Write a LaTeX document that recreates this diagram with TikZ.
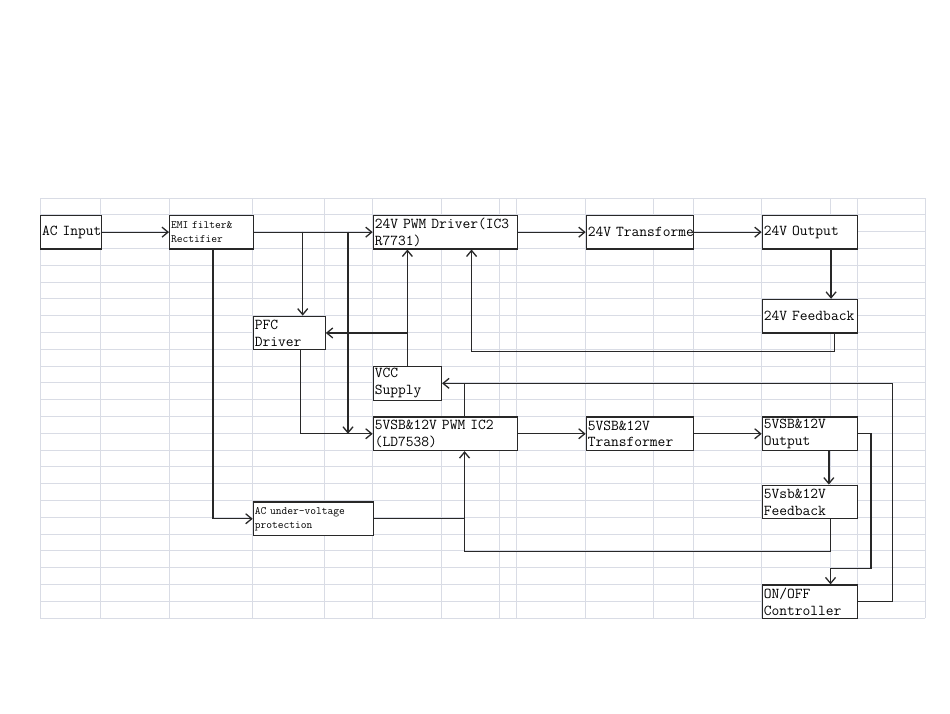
\documentclass[tikz,border=0pt]{standalone}
\usepackage{amsmath}
\usepackage{amssymb}
\usetikzlibrary{arrows.meta}

\definecolor{gridgray}{RGB}{217,220,229}
\definecolor{inkgray}{RGB}{40,40,40}

\tikzset{
  blk/.style={draw=inkgray, line width=1.1pt, fill=white, anchor=north west,
    inner xsep=1.5pt, inner ysep=0pt, align=left, minimum height=33.6pt,
    font=\ttfamily\fontsize{15.1}{16.8}\selectfont},
  small/.style={font=\ttfamily\fontsize{11.2}{14}\selectfont},
  wire/.style={draw=inkgray, line width=1.3pt}
}

\begin{document}
\begin{tikzpicture}[x=1pt, y=-1pt, >={Straight Barb[length=6pt,width=10pt]}]
\useasboundingbox [fill=white] (0,0) rectangle (950,713);

% sheet grid
\foreach \k in {0,...,25}
  \draw [gridgray, line width=0.8pt] (40,198+16.8*\k) -- (925,198+16.8*\k);
\foreach \x in {40,100.7,169,252.7,324.7,372.7,441,499.3,516.7,585.7,653,693.3,761.7,830,857.3,925}
  \draw [gridgray, line width=0.8pt] (\x,198) -- (\x,618);

% blocks
\node [blk, minimum width=60.7pt, text width=57.7pt] (ac) at (40,214.8) {AC~Input};
\node [blk, small, minimum width=83.7pt, text width=80.7pt] (emi) at (169,214.8) {EMI filter\&\\Rectifier};
\node [blk, minimum width=144pt, text width=141pt] (pwmA) at (372.7,214.8) {24V PWM Driver(IC3\\R7731)};
\node [blk, minimum width=107.6pt, text width=104.6pt] (trA) at (585.7,214.8) {24V~Transforme};
\node [blk, minimum width=95.6pt, text width=92.6pt] (outA) at (761.7,214.8) {24V Output};
\node [blk, minimum width=95.6pt, text width=92.6pt] (fbA) at (761.7,298.8) {24V Feedback};
\node [blk, minimum width=72pt, text width=69pt] (pfc) at (252.7,315.6) {PFC\\Driver};
\node [blk, minimum width=68.3pt, text width=65.3pt] (vcc) at (372.7,366) {VCC\\Supply};
\node [blk, minimum width=144pt, text width=141pt] (pwmB) at (372.7,416.4) {5VSB\&12V PWM IC2\\(LD7538)};
\node [blk, minimum width=107.6pt, text width=104.6pt] (trB) at (585.7,416.4) {5VSB\&12V\\Transformer};
\node [blk, minimum width=95.6pt, text width=92.6pt] (outB) at (761.7,416.4) {5VSB\&12V\\Output};
\node [blk, minimum width=95.6pt, text width=92.6pt] (fbB) at (761.7,484.6) {5Vsb\&12V\\Feedback};
\node [blk, small, minimum width=120pt, text width=117pt] (uvp) at (252.7,501.4) {AC under-voltage\\protection};
\node [blk, minimum width=95.6pt, text width=92.6pt] (onoff) at (761.7,584.4) {ON/OFF\\Controller};

\coordinate (j1) at (302.7,231.6);
\coordinate (j2) at (348,231.6);
\coordinate (fbin) at ([xshift=19.3pt]pwmB.south);

% 24V path
\draw [wire, ->] (ac.east) -- (emi.west);
\draw [wire, ->] (emi.east) -- (pwmA.west);
\draw [wire, ->] (j1) -- (j1 |- pfc.north);
\draw [wire, ->] (j2) -- (j2 |- pwmB.west);
\draw [wire, ->] (pwmA.east) -- (trA.west);
\draw [wire, ->] (trA.east) -- (outA.west);
\draw [wire, ->] ([xshift=21pt]outA.south) -- ([xshift=21pt]fbA.north);
\draw [wire, ->] ([xshift=24.5pt]fbA.south) -- ++(0,18) -| ([xshift=26.3pt]pwmA.south);
\draw [wire, ->] (vcc.north) -- (vcc.north |- pwmA.south);
\draw [wire, ->] (vcc.north |- pfc.east) -- (pfc.east);
\draw [wire, ->] ([xshift=11pt]pfc.south) |- (pwmB.west);

% 5VSB & 12V path
\draw [wire, ->] ([xshift=1.5pt]emi.south) |- (uvp.west);
\draw [wire, ->] (pwmB.east) -- (trB.west);
\draw [wire, ->] (trB.east) -- (outB.west);
\draw [wire, ->] ([xshift=18.8pt]outB.south) -- ([xshift=18.8pt]fbB.north);
\draw [wire, ->] ([xshift=20.5pt]fbB.south) -- ++(0,32) -| (fbin);
\draw [wire] (uvp.east) -- (uvp.east -| fbin);
\draw [wire, ->] (outB.east) -- ++(12.7,0) -- ++(0,135) -| ([xshift=20.5pt]onoff.north);
\draw [wire, ->] (onoff.east) -- ++(34.4,0) |- (vcc.east);
\draw [wire] (fbin |- pwmB.north) -- (fbin |- vcc.east);

\end{tikzpicture}
\end{document}
